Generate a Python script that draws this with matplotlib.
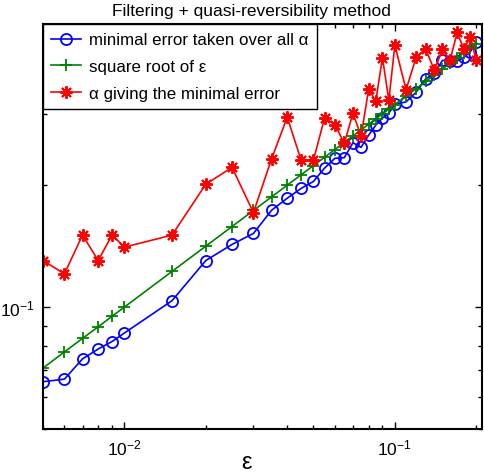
import matplotlib
matplotlib.use("Agg")
import matplotlib.pyplot as plt
from matplotlib.ticker import LogLocator, LogFormatterSciNotation, NullFormatter

plt.rcParams['font.family'] = ['Liberation Sans', 'DejaVu Sans']
plt.rcParams['mathtext.fontset'] = 'custom'
plt.rcParams['mathtext.rm'] = 'Liberation Sans'
plt.rcParams['mathtext.it'] = 'Liberation Sans:italic'

eps = [0.005, 0.006, 0.007, 0.008, 0.009, 0.01, 0.015, 0.02, 0.025, 0.03,
       0.035, 0.04, 0.045, 0.05, 0.055, 0.06, 0.065, 0.07, 0.075, 0.08,
       0.085, 0.09, 0.095, 0.1, 0.11, 0.12, 0.13, 0.14, 0.15, 0.16,
       0.17, 0.18, 0.19, 0.2]

min_error = [0.0654, 0.0664, 0.0745, 0.0788, 0.0822, 0.0863, 0.1037, 0.1303, 0.1428, 0.1520,
             0.1734, 0.1857, 0.1963, 0.2043, 0.2205, 0.2330, 0.2338, 0.2546, 0.2480, 0.2657,
             0.2813, 0.2928, 0.3010, 0.3170, 0.3210, 0.3397, 0.3660, 0.3776, 0.4066, 0.4060,
             0.4050, 0.4137, 0.4267, 0.4506]

sqrt_eps = [0.0707, 0.0775, 0.0837, 0.0894, 0.0949, 0.1000, 0.1225, 0.1414, 0.1581, 0.1732,
            0.1871, 0.2000, 0.2121, 0.2236, 0.2345, 0.2449, 0.2550, 0.2646, 0.2739, 0.2828,
            0.2915, 0.3000, 0.3082, 0.3162, 0.3317, 0.3464, 0.3606, 0.3742, 0.3873, 0.4000,
            0.4123, 0.4243, 0.4359, 0.4472]

alpha_opt = [0.1303, 0.1208, 0.1506, 0.1303, 0.1506, 0.1406, 0.1506, 0.2011, 0.2213, 0.1711,
             0.2321, 0.2944, 0.2307, 0.2307, 0.2932, 0.2823, 0.2539, 0.3011, 0.2643, 0.3450,
             0.3227, 0.4130, 0.3238, 0.4436, 0.3440, 0.4150, 0.4335, 0.3845, 0.4326, 0.4070,
             0.4766, 0.4326, 0.4650, 0.4070]

labels = ['minimal error taken over all α', 'square root of ε', 'α giving the minimal error']

fig = plt.figure(figsize=(4.84, 4.77), dpi=100)
ax = fig.add_axes([43/484, 1-430/477, (482-43)/484, (430-25)/477])

ax.loglog(eps, min_error, color='#0000ff', lw=1.2, marker='o', ms=8,
          mfc='none', mec='#0000ff', mew=1.3, label=labels[0])
ax.loglog(eps, sqrt_eps, color='#008000', lw=1.2, marker='+', ms=8,
          mec='#008000', mew=1.3, label=labels[1])
ax.loglog(eps, alpha_opt, color='#ff0000', lw=1.2, marker=(8, 2, 0), ms=9,
          mec='#ff0000', mew=1.4, label=labels[2])

ax.set_xlim(0.005, 0.21)
ax.set_ylim(0.05, 0.5)

for axis in (ax.xaxis, ax.yaxis):
    axis.set_major_locator(LogLocator(base=10))
    axis.set_minor_locator(LogLocator(base=10, subs=range(2, 10)))
    axis.set_major_formatter(LogFormatterSciNotation())
    axis.set_minor_formatter(NullFormatter())

ax.tick_params(which='both', direction='in', top=True, right=True, labelsize=12.5,
               width=1.0, color='black')
ax.tick_params(which='major', length=5)
ax.tick_params(which='minor', length=3)
ax.tick_params(axis='x', pad=6)
ax.tick_params(axis='y', pad=6)
for s in ax.spines.values():
    s.set_linewidth(1.5)

leg = ax.legend(loc='upper left', borderaxespad=0, fancybox=False, framealpha=1,
                edgecolor='black', fontsize=12.2, handlelength=1.75, handletextpad=0.45,
                labelspacing=0.68, borderpad=0.5)
leg.get_frame().set_linewidth(1.0)

fig.text(251.5/484, 1-16/477, 'Filtering + quasi-reversibility method',
         ha='center', va='baseline', fontsize=12.5)
fig.text(247/484, 1-463/477, 'ε', ha='center', va='center', fontsize=17)

fig.savefig('out.png', dpi=100)
